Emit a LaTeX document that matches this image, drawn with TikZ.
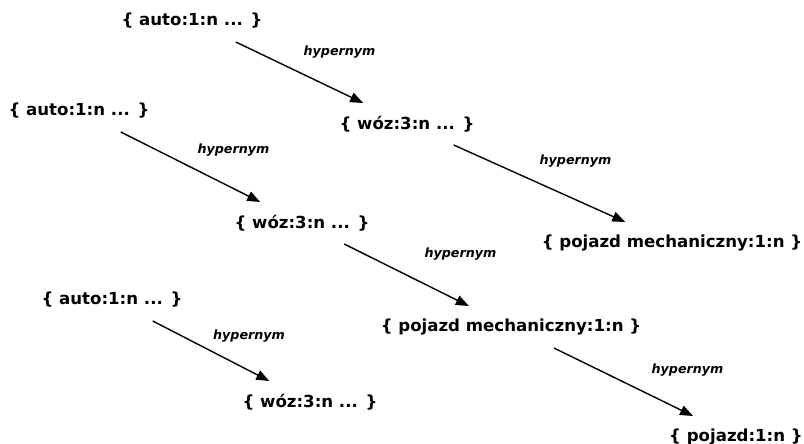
\documentclass[tikz,border=0pt]{standalone}
\usepackage{fontspec}
\setmainfont{DejaVu Sans}
\usetikzlibrary{arrows.meta}

\begin{document}
\begin{tikzpicture}
[ x=1pt, y=-1pt
, synset/.style={rectangle, minimum height=42pt, inner sep=0pt, outer sep=0pt, font=\fontsize{16.6}{19}\selectfont\bfseries}
, rel/.style={font=\fontsize{12.7}{15}\selectfont\bfseries\itshape}
, hyp/.style={line width=1.4pt, -{Triangle[length=13pt,width=10pt]}}
]
\useasboundingbox (0,0) rectangle (804,444);
% First chain:
\node (auto1) [synset] at (192,21) {\{ auto:1:n ... \}};
\node (woz1) [synset] at (407,124) {\{ wóz:3:n ... \}};
\node (mech1) [synset] at (672,243) {\{ pojazd mechaniczny:1:n \}};
% Second chain:
\node (auto2) [synset] at (79,111) {\{ auto:1:n ... \}};
\node (woz2) [synset] at (302,223) {\{ wóz:3:n ... \}};
\node (mech2) [synset] at (511,327) {\{ pojazd mechaniczny:1:n \}};
\node (pojazd) [synset] at (736,437) {\{ pojazd:1:n \}};
% Third chain:
\node (auto3) [synset] at (112,300) {\{ auto:1:n ... \}};
\node (woz3) [synset] at (310,402) {\{ wóz:3:n ... \}};
\draw [hyp] (auto1) -- node [rel, xshift=40pt, yshift=20pt] {hypernym} (woz1);
\draw [hyp] (woz1) -- node [rel, xshift=36pt, yshift=22pt] {hypernym} (mech1);
\draw [hyp] (auto2) -- node [rel, xshift=43pt, yshift=17pt] {hypernym} (woz2);
\draw [hyp] (woz2) -- node [rel, xshift=54pt, yshift=21pt] {hypernym} (mech2);
\draw [hyp] (mech2) -- node [rel, xshift=64pt, yshift=12pt] {hypernym} (pojazd);
\draw [hyp] (auto3) -- node [rel, xshift=38pt, yshift=15pt] {hypernym} (woz3);
\end{tikzpicture}
\end{document}
